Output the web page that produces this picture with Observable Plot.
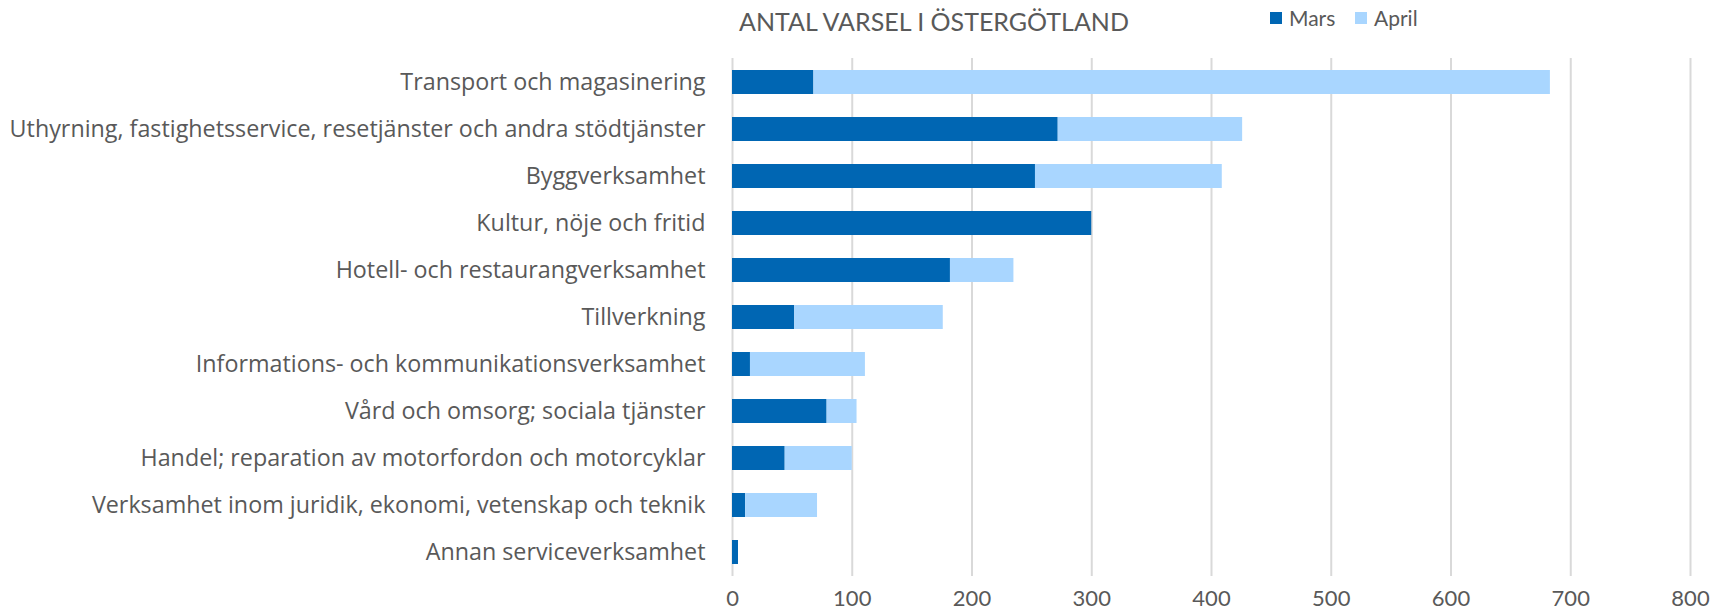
<!DOCTYPE html>
<html>
<head>
<meta charset="utf-8">
<script src="https://cdn.jsdelivr.net/npm/d3@7"></script>
<script src="https://cdn.jsdelivr.net/npm/@observablehq/plot@0.6"></script>
<style>
  html, body { margin: 0; padding: 0; background: #fff; overflow: hidden; }
  #wrap { width: 1711px; font-family: Lato, "Open Sans", sans-serif; color: #595959; }
  #head { position: relative; height: 45px; }
  #title { position: absolute; left: 739px; top: 6px; font-size: 25px; color: #595959; white-space: nowrap; }
  .leg { position: absolute; top: 5px; font-size: 21px; color: #595959; display: flex; align-items: center; white-space: nowrap; }
  .sw { width: 12px; height: 12px; display: inline-block; margin-right: 7px; }
  #chart svg { display: block; }
</style>
</head>
<body>
<div id="wrap">
  <div id="head">
    <div id="title">ANTAL VARSEL I ÖSTERGÖTLAND</div>
    <div id="legend"></div>
  </div>
  <div id="chart"></div>
</div>
<script>
const categories = [
  "Transport och magasinering",
  "Uthyrning, fastighetsservice, resetjänster och andra stödtjänster",
  "Byggverksamhet",
  "Kultur, nöje och fritid",
  "Hotell- och restaurangverksamhet",
  "Tillverkning",
  "Informations- och kommunikationsverksamhet",
  "Vård och omsorg; sociala tjänster",
  "Handel; reparation av motorfordon och motorcyklar",
  "Verksamhet inom juridik, ekonomi, vetenskap och teknik",
  "Annan serviceverksamhet"
];
const series = ["Mars", "April"];
const mars  = [68, 272, 253, 300, 182, 52, 15, 79, 44, 11, 5];
const april = [615, 154, 156, 0, 53, 124, 96, 25, 56, 60, 0];
const xTicks = [0, 100, 200, 300, 400, 500, 600, 700, 800];
const colors = ["#0066B3", "#A9D6FF"];

const rows = [];
categories.forEach((c, i) => rows.push({category: c, series: "Mars", value: mars[i]}));
categories.forEach((c, i) => rows.push({category: c, series: "April", value: april[i]}));

// legend (HTML, above the SVG)
const legendPos = [1270, 1355];
const legend = document.getElementById("legend");
series.forEach((s, i) => {
  const d = document.createElement("div");
  d.className = "leg";
  d.style.left = legendPos[i] + "px";
  d.innerHTML = `<span class="sw" style="background:${colors[i]}"></span>${s}`;
  legend.appendChild(d);
});

const chart = Plot.plot({
  width: 1711,
  height: 568,
  marginLeft: 732,
  marginRight: 21,
  marginTop: 13,
  marginBottom: 37,
  style: {fontFamily: "Lato, 'Open Sans', sans-serif", fontSize: "22px", color: "#595959", background: "#fff"},
  x: {domain: [0, 800], ticks: xTicks, grid: false, label: null},
  y: {domain: categories, paddingInner: 0.5, paddingOuter: 0.25, label: null},
  color: {domain: series, range: colors},
  marks: [
    Plot.ruleX(xTicks, {stroke: "#d9d9d9", strokeWidth: 2}),
    Plot.barX(rows, {x: "value", y: "category", fill: "series", order: series}),
    Plot.axisX({ticks: xTicks, tickSize: 0, tickPadding: 14, fontSize: 22, fill: "#595959", label: null}),
    Plot.axisY({tickSize: 0, tickPadding: 27, fontSize: 23.3, fontFamily: "'Open Sans', sans-serif", fill: "#595959", label: null})
  ]
});
document.getElementById("chart").appendChild(chart);
</script>
</body>
</html>
